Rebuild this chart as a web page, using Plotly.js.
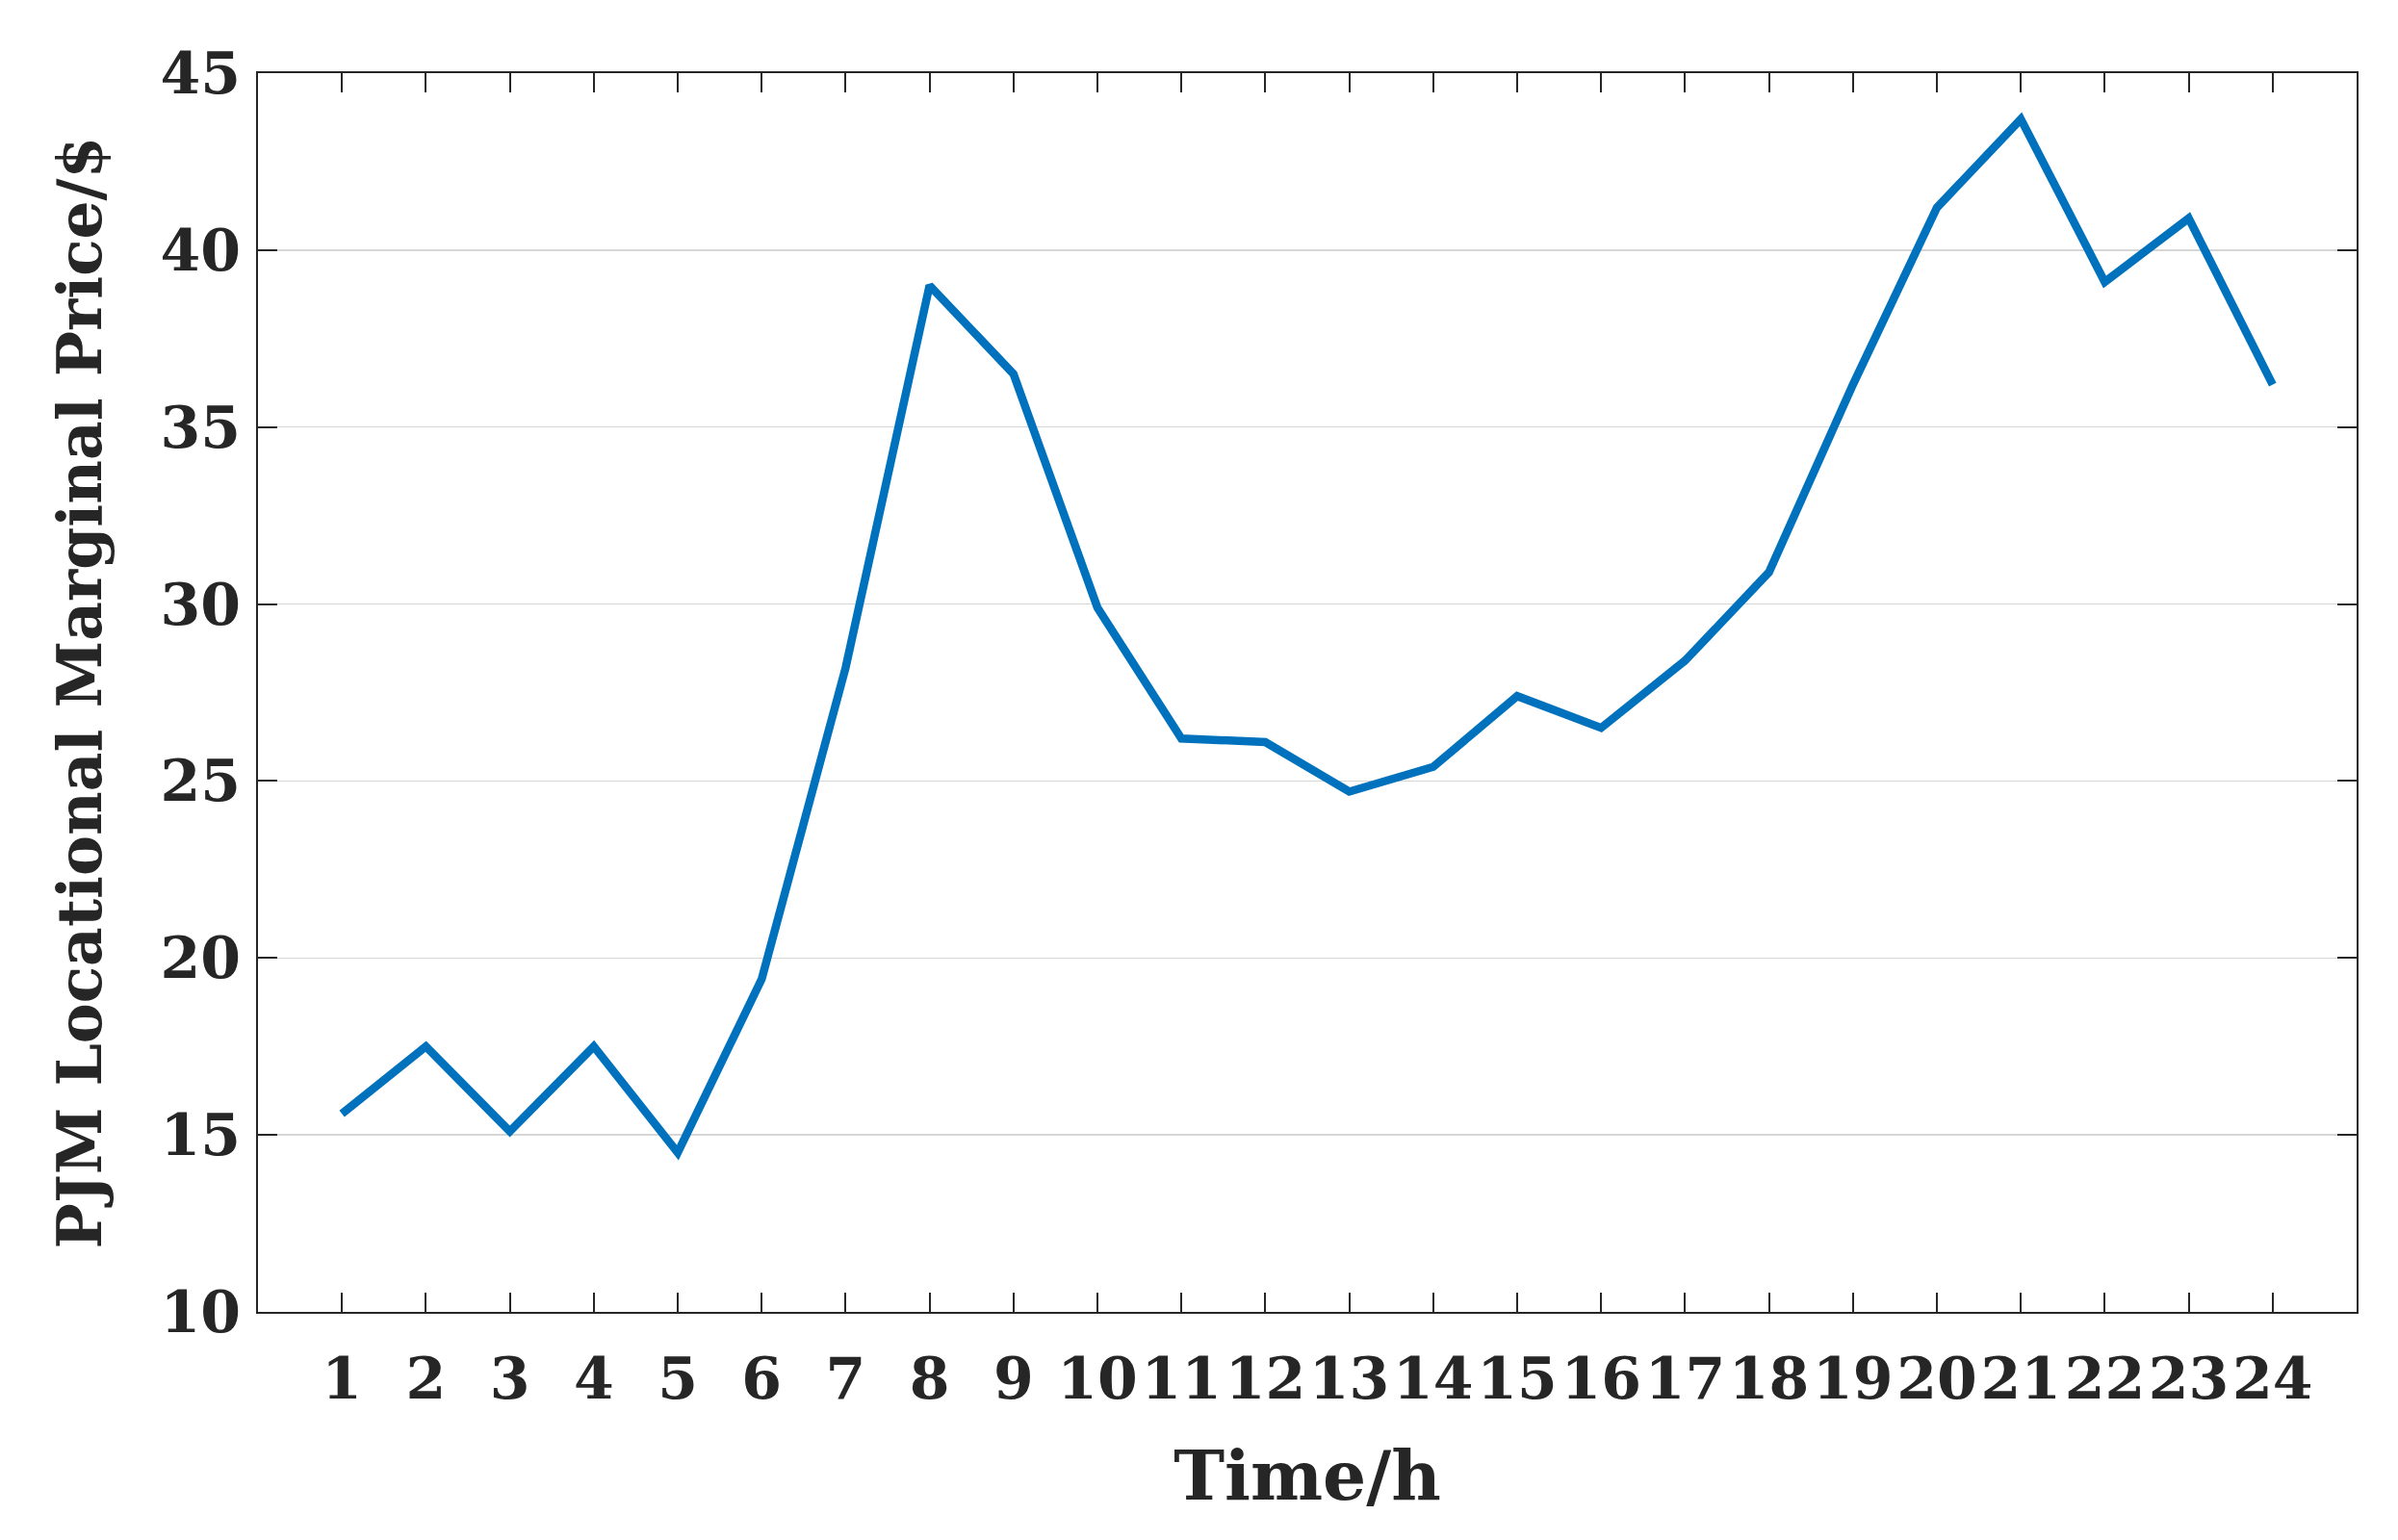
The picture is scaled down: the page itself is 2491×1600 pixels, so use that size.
<!DOCTYPE html>
<html>
<head>
<meta charset="utf-8">
<script src="https://cdn.plot.ly/plotly-3.0.1.min.js"></script>
<style>
  html, body { margin: 0; padding: 0; background: #fff; }
  #plot { width: 2491px; height: 1600px; }
</style>
</head>
<body>
<div id="plot"></div>
<script>
// hourly PJM LMP
var hours = [1,2,3,4,5,6,7,8,9,10,11,12,13,14,15,16,17,18,19,20,21,22,23,24];
var price = [15.6,17.5,15.1,17.5,14.5,19.4,28.2,39.0,36.5,29.9,26.2,26.1,
             24.7,25.4,27.4,26.5,28.4,30.9,36.2,41.2,43.7,39.1,40.9,36.2];
var yTicks = [10,15,20,25,30,35,40,45];

var fontFam = '"DejaVu Serif", "Liberation Serif", serif';

var trace1 = {
  x: hours,
  y: price,
  type: 'scatter',
  mode: 'lines',
  line: {color: '#0072BD', width: 8.5},
  showlegend: false
};

var layout = {
  width: 2491,
  height: 1600,
  margin: {l: 268, r: 43, t: 76, b: 237},
  paper_bgcolor: '#fff',
  plot_bgcolor: '#fff',
  font: {family: fontFam, color: '#262626', size: 60, weight: 'bold'},
  xaxis: {
    range: [0, 25],
    tickvals: hours,
    ticktext: hours.map(String),
    ticks: 'inside',
    ticklen: 20,
    tickwidth: 2,
    tickcolor: '#262626',
    showline: true,
    linecolor: '#262626',
    linewidth: 2,
    mirror: 'ticks',
    showgrid: false,
    zeroline: false,
    ticklabelstandoff: 16,
    tickfont: {family: fontFam, size: 60, color: '#262626', weight: 'bold'},
    title: {text: 'Time/h', standoff: 42,
            font: {family: fontFam, size: 71, color: '#262626', weight: 'bold'}}
  },
  yaxis: {
    range: [10, 45],
    tickvals: yTicks,
    ticks: 'inside',
    ticklen: 20,
    tickwidth: 2,
    tickcolor: '#262626',
    showline: true,
    linecolor: '#262626',
    linewidth: 2,
    mirror: 'ticks',
    showgrid: true,
    gridcolor: '#d6d6d6',
    gridwidth: 1.5,
    zeroline: false,
    ticklabelstandoff: 4,
    tickfont: {family: fontFam, size: 60, color: '#262626', weight: 'bold'},
    title: {text: 'PJM Locational Marginal Price/$', standoff: 40,
            font: {family: fontFam, size: 63, color: '#262626', weight: 'bold'}}
  }
};

Plotly.newPlot('plot', [trace1], layout, {displayModeBar: false, staticPlot: true});
</script>
</body>
</html>
